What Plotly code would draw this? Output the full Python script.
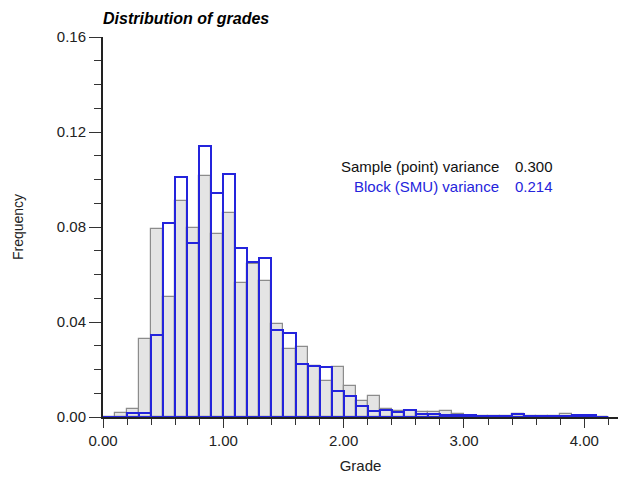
import plotly.graph_objects as go

# Histogram bins (left edges, width 0.1)
bin_left = [round(0.1 * i, 1) for i in range(42)]  # 0.0 .. 4.1
bin_width = 0.1

sample_freq = [0.0, 0.0016, 0.0032, 0.033, 0.079, 0.0505, 0.091, 0.0797, 0.1016, 0.0771,
               0.0857, 0.0566, 0.0645, 0.0573, 0.0392, 0.0287, 0.0294, 0.0213, 0.0151, 0.021,
               0.0129, 0.0067, 0.0087, 0.0035, 0.0025, 0.0025, 0.002, 0.002, 0.0024, 0.0011,
               0.0006, 0.0003, 0.0005, 0.0004, 0.0011, 0.0004, 0.0003, 0.0003, 0.0014, 0.0004,
               0.0003, 0.0]

block_freq = [0.0, 0.0, 0.0015, 0.0015, 0.0344, 0.0816, 0.101, 0.0734, 0.114, 0.0945,
              0.1023, 0.0713, 0.0652, 0.0669, 0.0367, 0.0353, 0.0224, 0.0216, 0.021, 0.0109,
              0.009, 0.0045, 0.0025, 0.003, 0.002, 0.0028, 0.0014, 0.0012, 0.001, 0.0008,
              0.0007, 0.0003, 0.0006, 0.0006, 0.0014, 0.0005, 0.0003, 0.0003, 0.0005, 0.0008,
              0.0008, 0.0]

sample_variance = "0.300"
block_variance = "0.214"

centers = [b + bin_width / 2 for b in bin_left]

BLUE = "#2424dc"
FONT = "Liberation Sans, Arial, sans-serif"

fig = go.Figure()
fig.add_trace(go.Bar(
    x=centers, y=sample_freq, width=bin_width,
    marker=dict(color="#e4e4e4", line=dict(color="#8c8c8c", width=1.2)),
    name="Sample", showlegend=False,
))
fig.add_trace(go.Bar(
    x=centers, y=block_freq, width=bin_width,
    marker=dict(color="rgba(0,0,0,0)", line=dict(color=BLUE, width=2)),
    name="Block", showlegend=False,
))
# blue baseline under the block histogram
fig.add_trace(go.Scatter(
    x=[bin_left[0], bin_left[-1] + bin_width], y=[0, 0], mode="lines",
    line=dict(color=BLUE, width=2), showlegend=False, hoverinfo="skip",
))

fig.update_layout(
    width=618, height=479,
    margin=dict(l=103, r=0, t=37, b=62),
    paper_bgcolor="white", plot_bgcolor="white",
    barmode="overlay", bargap=0,
    font=dict(family=FONT, size=14, color="#222"),
    title=dict(text="<b><i>Distribution of grades</i></b>", x=0, xref="paper",
               xanchor="left", y=0.962, yanchor="middle",
               font=dict(family=FONT, size=16, color="#000")),
    xaxis=dict(
        range=[0, 4.28], showgrid=False, zeroline=False,
        showline=True, linecolor="#222", linewidth=1.5,
        tickmode="linear", tick0=0, dtick=1, tickformat=".2f",
        ticks="outside", ticklen=9, tickwidth=1, tickcolor="#333",
        minor=dict(dtick=0.2, tick0=0, ticks="outside", ticklen=6, tickcolor="#333", tickwidth=1),
        tickfont=dict(size=15, color="#222"),
        title=dict(text="Grade", font=dict(size=15, color="#222"), standoff=13),
    ),
    yaxis=dict(
        range=[0, 0.16], showgrid=False, zeroline=False,
        showline=True, linecolor="#222", linewidth=2,
        tickmode="linear", tick0=0, dtick=0.04, tickformat=".2f",
        ticks="outside", ticklen=12, tickwidth=1, tickcolor="#333",
        minor=dict(dtick=0.01, tick0=0, ticks="outside", ticklen=7, tickcolor="#333", tickwidth=1),
        tickfont=dict(size=15, color="#222"),
        title=dict(text="Frequency", font=dict(size=14, color="#222"), standoff=30),
    ),
    annotations=[
        dict(x=3.31, y=0.1054, xref="x", yref="y", text="Sample (point) variance",
             showarrow=False, xanchor="right", yanchor="middle",
             font=dict(size=15, color="#111")),
        dict(x=3.41, y=0.1054, xref="x", yref="y", text=sample_variance,
             showarrow=False, xanchor="left", yanchor="middle",
             font=dict(size=15, color="#111")),
        dict(x=3.31, y=0.0972, xref="x", yref="y", text="Block (SMU) variance",
             showarrow=False, xanchor="right", yanchor="middle",
             font=dict(size=15, color=BLUE)),
        dict(x=3.41, y=0.0972, xref="x", yref="y", text=block_variance,
             showarrow=False, xanchor="left", yanchor="middle",
             font=dict(size=15, color=BLUE)),
    ],
)

fig.write_html("out.html", config={"displayModeBar": False},
               post_script="document.body.style.margin='0';")
